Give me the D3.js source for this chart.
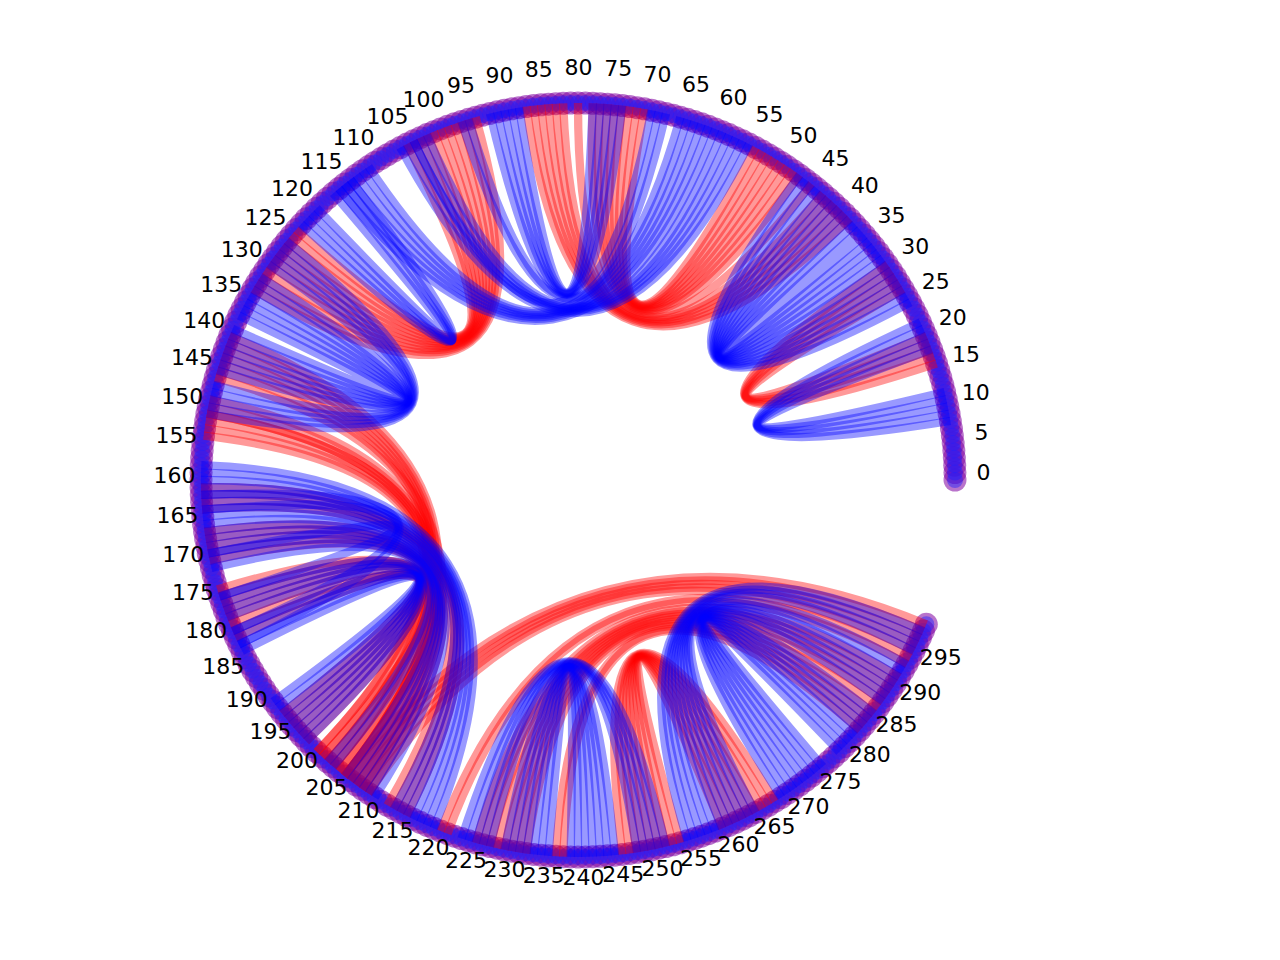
<!DOCTYPE html>
<html><head><meta charset="utf-8">
<script src="https://cdn.jsdelivr.net/npm/d3@7"></script>
<style>html,body{margin:0;background:#fff}svg{display:block}text{font-family:"DejaVu Sans";font-size:22px;fill:#000}</style>
</head><body><svg id="c" width="1280" height="960"></svg>
<script>
const nodeCount = 301;
const tickStep = 5;
// stems: [a, b, n] means pairs (a+k, b-k) for k = 0..n-1
const redStems = [
 [16,31,5],[48,78,8],[39,87,6],[46,80,1],
 [94,133,10],[104,123,1],[140,206,6],
 [146,209,1],[149,208,3],[151,206,1],[152,204,2],[154,201,1],
 [161,216,4],[167,210,5],
 [175,205,1],[176,199,4],[180,202,1],[181,195,2],
 [206,300,5],[221,295,2],[226,292,8],[237,284,2],
 [246,268,9]
];
const blueStems = [
 [8,22,5],[25,48,12],
 [74,92,5],[56,105,5],[61,115,6],[68,96,2],[70,103,1],
 [113,122,4],[125,151,5],[131,145,3],[134,142,4],
 [158,220,7],[165,211,6],[171,204,2],[170,176,1],[164,181,1],[162,183,1],[176,199,4],[181,195,4],
 [224,252,5],[230,245,7],
 [255,299,4],[259,294,7],[269,286,8]
];
const svg = d3.select("#c");
const theta = d3.scaleLinear().domain([0,320]).range([0,2*Math.PI]);
const rad = d3.scaleLinear().domain([0,1]).range([0,377]);
const cx=578, cy=480;
const px = (i,r=1)=>cx+rad(r)*Math.cos(theta(i));
const py = (i,r=1)=>cy-rad(r)*Math.sin(theta(i));
const expand = s => s.flatMap(([a,b,n])=>d3.range(n).map(k=>[a+k,b-k]));
const link = ([a,b])=>{const p=d3.path();p.moveTo(px(a),py(a));p.quadraticCurveTo(cx,cy,px(b),py(b));return p.toString();};
const nodes = d3.range(nodeCount);
svg.append("g").selectAll("circle").data(nodes).join("circle")
 .attr("cx",d=>px(d)).attr("cy",d=>py(d)).attr("r",11.5).attr("fill","#8000a0").attr("opacity",0.55);
svg.append("g").selectAll("circle").data(nodes).join("circle")
 .attr("cx",d=>px(d)).attr("cy",d=>py(d)).attr("r",8).attr("fill","#2020ff").attr("opacity",0.45);
[[redStems,"#ff0000"],[blueStems,"#0000ff"]].forEach(([s,c])=>{
 svg.append("g").selectAll("path").data(expand(s)).join("path")
  .attr("d",link).attr("fill","none").attr("stroke",c).attr("stroke-width",8.3).attr("stroke-opacity",0.4);
});
const ticks = d3.range(0,nodeCount-1,tickStep);
const labelDx = d => d>=190 ? 5.5 : d>160 ? 2.5 : d>140 ? 1.5 : 0.5;
const labelDy = d => d>=240 ? -8-5*(d-240)/55 : -8+3.5*Math.max(0,-Math.cos(theta(d)));
svg.append("g").selectAll("text").data(ticks).join("text")
 .attr("x",d=>px(d,405/377)+labelDx(d)).attr("y",d=>py(d,405/377)+labelDy(d))
 .attr("text-anchor","middle").attr("dominant-baseline","central").text(d=>d);
</script></body></html>
